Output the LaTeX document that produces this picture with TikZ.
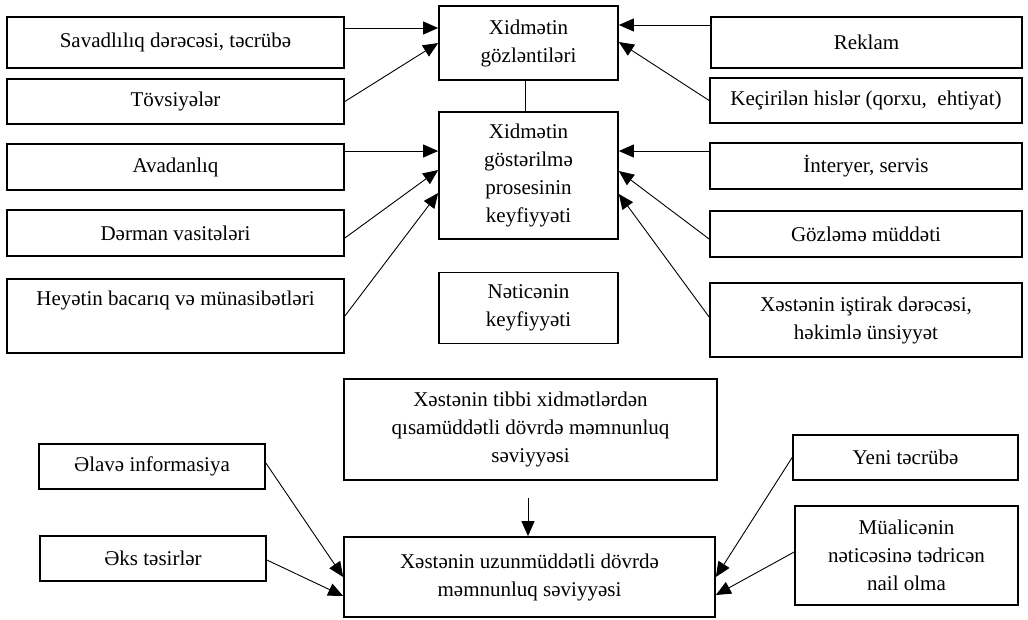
\documentclass[tikz,border=0pt]{standalone}
\usepackage{fontspec}
\setmainfont{Liberation Serif}
\usetikzlibrary{arrows.meta}
\begin{document}
\begin{tikzpicture}[x=1pt,y=-1pt,
  box/.style={draw, line width=1.7pt, inner sep=0pt, align=center,
    font=\fontsize{21}{28}\selectfont},
  arr/.style={line width=0.9pt, -{Triangle[length=15pt,width=13pt]}},
  link/.style={line width=0.9pt}]
\useasboundingbox (0,0) rectangle (1028,619);

% left column
\node[box, minimum width=337pt, minimum height=51pt] (sav) at (175.5,42.5) {Savadlılıq dərəcəsi, təcrübə};
\node[box, minimum width=337pt, minimum height=45pt] (tov) at (175.5,101.5) {Tövsiyələr};
\node[box, minimum width=337pt, minimum height=46pt] (ava) at (175.5,167) {Avadanlıq};
\node[box, minimum width=337pt, minimum height=46pt] (der) at (175.5,233) {Dərman vasitələri};
\node[box, minimum width=337pt, minimum height=74pt] (hey) at (175.5,316) {Heyətin bacarıq və münasibətləri\\ \strut};

% centre column
\node[box, minimum width=179pt, minimum height=74pt] (gozl) at (528.5,43) {Xidmətin\\gözləntiləri};
\node[box, minimum width=179pt, minimum height=127pt] (proc) at (528.5,175.5) {Xidmətin\\göstərilmə\\prosesinin\\keyfiyyəti};
\node[box, minimum width=179pt, minimum height=71pt] (net) at (528.5,308) {Nəticənin\\keyfiyyəti};
\node[box, minimum width=373pt, minimum height=101pt] (short) at (530.5,429.5) {Xəstənin tibbi xidmətlərdən\\qısamüddətli dövrdə məmnunluq\\səviyyəsi};
\node[box, minimum width=371pt, minimum height=80pt] (long) at (529.5,577) {Xəstənin uzunmüddətli dövrdə\\məmnunluq səviyyəsi};

% right column
\node[box, minimum width=311pt, minimum height=51pt] (rek) at (866.5,42.5) {Reklam};
\node[box, minimum width=312pt, minimum height=45pt] (kec) at (866,100.5) {Keçirilən hislər (qorxu,\ \ ehtiyat)};
\node[box, minimum width=312pt, minimum height=46pt] (int) at (866,166) {İnteryer, servis};
\node[box, minimum width=312pt, minimum height=46pt] (goz) at (866,234) {Gözləmə müddəti};
\node[box, minimum width=312pt, minimum height=74pt] (ist) at (866,320) {Xəstənin iştirak dərəcəsi,\\həkimlə ünsiyyət};

% bottom side boxes
\node[box, minimum width=226pt, minimum height=45pt] (ela) at (152,466.5) {Əlavə informasiya};
\node[box, minimum width=226pt, minimum height=45pt] (eks) at (153,558.5) {Əks təsirlər};
\node[box, minimum width=225pt, minimum height=45pt] (yeni) at (905.5,457.5) {Yeni təcrübə};
\node[box, minimum width=223pt, minimum height=99pt] (mual) at (906.5,555.5) {Müalicənin\\nəticəsinə tədricən\\nail olma};

% connectors into the expectations box
\draw[arr] ([yshift=14.5pt]sav.east) -- ([yshift=15pt]gozl.west);
\draw[arr] (tov.east) -- (gozl.west);
\draw[arr] ([yshift=17.5pt]rek.west) -- ([yshift=18pt]gozl.east);
\draw[arr] (kec.west) -- ([yshift=1pt]gozl.east);
\draw[link] ([xshift=-3.5pt]gozl.south) -- ([xshift=-3.5pt]proc.north);

% connectors into the process quality box
\draw[arr] ([yshift=16pt]ava.east) -- ([yshift=24.5pt]proc.west);
\draw[arr] ([yshift=-5pt]der.east) -- ([yshift=5.5pt]proc.west);
\draw[arr] (hey.east) -- ([yshift=-17.5pt]proc.west);
\draw[arr] ([yshift=15pt]int.west) -- ([yshift=24.5pt]proc.east);
\draw[arr] ([yshift=-5pt]goz.west) -- ([yshift=4.5pt]proc.east);
\draw[arr] ([yshift=3pt]ist.west) -- ([yshift=-18.5pt]proc.east);

% connectors into the long-term satisfaction box
\draw[arr] ([xshift=-2.5pt,yshift=-17pt]short.south) -- ([xshift=-1.5pt]long.north);
\draw[arr] ([yshift=3.5pt]ela.east) -- (long.west);
\draw[arr] ([yshift=-1.5pt]eks.east) -- ([yshift=-19pt]long.west);
\draw[arr] (yeni.west) -- (long.east);
\draw[arr] ([yshift=3.5pt]mual.west) -- ([yshift=-18pt]long.east);
\end{tikzpicture}
\end{document}
